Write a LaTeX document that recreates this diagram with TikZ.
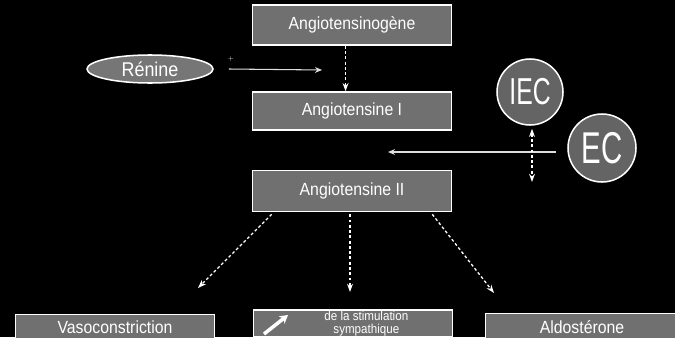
\documentclass[tikz,border=0pt]{standalone}
\usepackage{fontspec}
\newfontfamily\narrowsf{Liberation Sans}[FakeStretch=0.9]
\newfontfamily\condsf{Liberation Sans}[FakeStretch=0.66]
\usetikzlibrary{shapes.geometric}
\usetikzlibrary{arrows.meta}

\tikzset{
  stage/.style={draw=white, line width=1.3pt, fill={rgb,255:red,112;green,112;blue,112},
    text=white, minimum width=5.97cm, minimum height=1.2cm, inner sep=2pt,
    font=\narrowsf\fontsize{15}{16}\selectfont, align=center},
  enzyme/.style={ellipse, draw=white, line width=1.3pt, fill={rgb,255:red,118;green,118;blue,118},
    text=white, minimum width=3.78cm, minimum height=0.84cm, inner sep=0pt,
    font=\narrowsf\fontsize{17}{17}\selectfont},
  blocker/.style={circle, draw=white, line width=1.3pt, fill={rgb,255:red,100;green,100;blue,100},
    text=white, inner sep=0pt},
  effect/.style={white, line width=1.1pt, dashed, dash pattern=on 2.5pt off 2pt, -{Stealth[length=7pt,width=5pt]}},
  feed/.style={white!75!gray, line width=0.9pt, -{Stealth[length=6pt,width=5pt]}}
}

\begin{document}
\begin{tikzpicture}[x=0.03cm,y=-0.03cm]
\fill[black] (0,0) rectangle (675,337);
\useasboundingbox (0,0) rectangle (675,337);
\clip (0,0) rectangle (675,337);
\coordinate (renend) at (322,70);
\coordinate (ecend) at (388,152);
\coordinate (iecend) at (532,182);
\coordinate (vasotip) at (198,288);
\coordinate (symptip) at (350,292);
\coordinate (aldotip) at (494,293);
\node[stage] (agt) at (352,25){Angiotensinogène};
\node[enzyme] (renine) at (150,69){Rénine};
\node[stage, minimum height=1.14cm] (ang1) at (352,111){Angiotensine I};
\node[stage, minimum height=1.23cm] (ang2) at (352,191){Angiotensine II};
\node[blocker, minimum size=1.98cm, font=\condsf\fontsize{32}{32}\selectfont] (iec) at (530,92){IEC};
\node[blocker, minimum size=2.04cm, font=\condsf\fontsize{38}{38}\selectfont] (ec) at (602,148){EC};
\node[stage, minimum height=0.78cm] (vaso) at (115,327.5){Vasoconstriction};
\node[stage, minimum height=0.8cm, inner sep=1pt, font=\narrowsf\fontsize{11}{11}\selectfont] (symp) at (353,323.5){\hspace*{0.8cm}de la stimulation\\\hspace*{0.8cm}sympathique};
\node[stage, minimum width=5.8cm, minimum height=0.8cm] (aldo) at (582,327){Aldostérone};
\node[white, font=\tiny] (plus) at (231,59){+};
% cascade
\draw[feed] (renine.east) ++(15,0) -- (renend);
\draw[effect] ([xshift=-5\pgflinewidth]agt.south) -- ([xshift=-5\pgflinewidth]ang1.north);
\draw[feed] (ec.west) ++(-11,4) -- (ecend);
\draw[effect, {Stealth[length=7pt,width=5pt]}-{Stealth[length=7pt,width=5pt]}] (iec.south) ++(2,3) -- (iecend);
% effects of angiotensine II
\draw[effect] (ang2.south west) ++(20,2) -- (vasotip);
\draw[effect] (ang2.south) ++(-2,2) -- (symptip);
\draw[effect] (ang2.south east) ++(-20,2) -- (aldotip);
\draw[white, line width=3pt, -{Stealth[length=7pt,width=8pt]}] (264,334) -- (288,315);
\end{tikzpicture}
\end{document}
